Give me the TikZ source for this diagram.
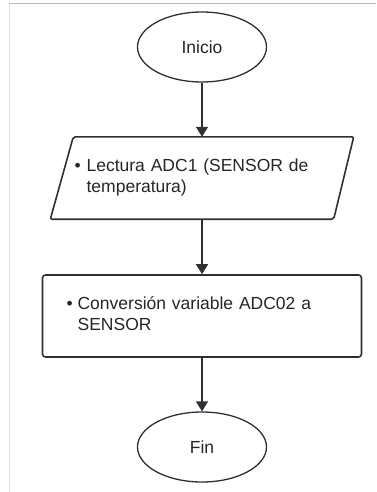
\documentclass[tikz,border=0pt]{standalone}
\usepackage{fontspec}
\setmainfont{Liberation Sans}
\usetikzlibrary{shapes.geometric,arrows.meta,positioning}
\definecolor{linea}{HTML}{2E3035}
\definecolor{texto}{HTML}{262626}
\tikzset{>={Triangle[width=12pt,length=10pt]},
  startstop/.style={ellipse,draw=linea,line width=1.3pt,minimum width=129pt,minimum height=70pt,text=texto},
  iobox/.style={minimum width=303pt,minimum height=82pt,inner xsep=24pt,text width=255pt,align=left,text=texto},
  iodraw/.style={draw=linea,line width=1.6pt,rounded corners=2pt},
  procbox/.style={draw=linea,line width=1.6pt,rounded corners=3pt,minimum width=319pt,minimum height=82pt,inner xsep=24pt,text width=271pt,align=left,text=texto},
  flecha/.style={->,draw=linea,line width=1.5pt}}

\begin{document}
\begin{tikzpicture}[x=1pt,y=-1pt,every node/.style={font=\fontsize{17.5}{21}\selectfont}]
\useasboundingbox (0,0) rectangle (376,492);
\draw[black!12,line width=1pt] (9,492) -- (9,3.3);
\draw[black!28,line width=1.2pt] (9,3.3) -- (376,3.3);
\node[startstop] (inicio) at (202,47) {Inicio};
\node[iobox] (lectura) at (202,178) {\begin{tabular}{@{}l@{\hspace{6pt}}l@{}}\textbullet & Lectura ADC1 (SENSOR de\\ & temperatura)\end{tabular}};
\draw[iodraw] ([xshift=23pt]lectura.north west) -- (lectura.north east) -- ([xshift=-20pt]lectura.south east) -- (lectura.south west) -- cycle;
\node[procbox] (conv) at (202,316) {\begin{tabular}{@{}l@{\hspace{5pt}}l@{}}\textbullet & Conversión variable ADC02 a\\ & SENSOR\end{tabular}};
\node[startstop] (fin) at (202,447) {Fin};
\draw[flecha] (inicio) -- (lectura);
\draw[flecha] (lectura) -- (conv);
\draw[flecha] (conv) -- (fin);
\end{tikzpicture}
\end{document}
